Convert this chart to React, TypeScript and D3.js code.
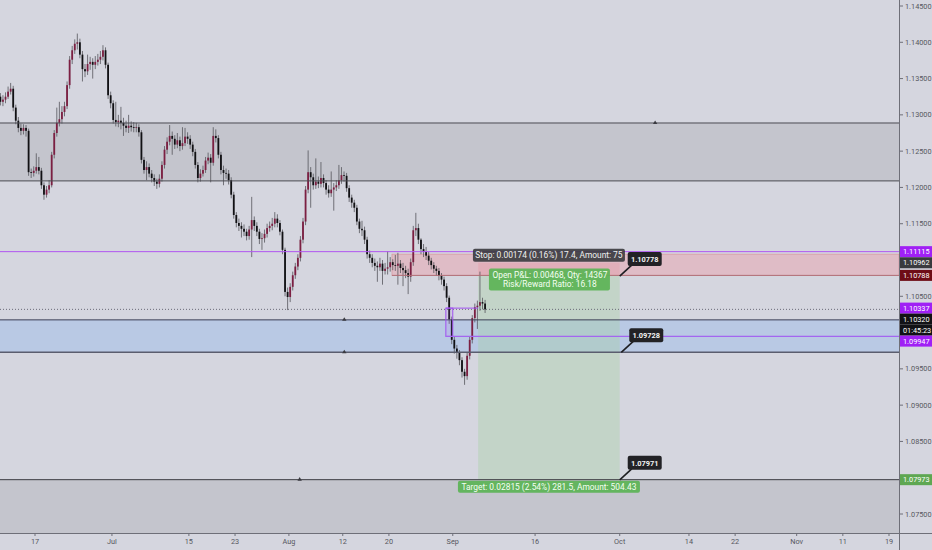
import * as d3 from 'd3';

// 8-hour candles, [open, high, low, close]
const candles: [number, number, number, number][] = [
  [1.1325,1.1330,1.1313,1.1318],[1.1318,1.1327,1.1312,1.1321],[1.1321,1.1331,1.1316,1.1325],[1.1325,1.1339,1.1322,1.1332],
  [1.1332,1.1344,1.1328,1.1336],[1.1336,1.1340,1.1305,1.1310],[1.1310,1.1314,1.1287,1.1292],[1.1292,1.1297,1.1276,1.1282],
  [1.1282,1.1288,1.1272,1.1278],[1.1278,1.1287,1.1273,1.1282],[1.1282,1.1286,1.1270,1.1278],[1.1278,1.1281,1.1216,1.1221],
  [1.1221,1.1226,1.1213,1.1220],[1.1220,1.1229,1.1215,1.1223],[1.1223,1.1247,1.1219,1.1228],[1.1228,1.1242,1.1218,1.1223],
  [1.1223,1.1227,1.1198,1.1203],[1.1203,1.1207,1.1183,1.1190],[1.1190,1.1202,1.1186,1.1197],[1.1197,1.1210,1.1192,1.1203],
  [1.1203,1.1249,1.1200,1.1245],[1.1245,1.1279,1.1240,1.1275],[1.1275,1.1310,1.1270,1.1289],[1.1289,1.1318,1.1284,1.1294],
  [1.1294,1.1312,1.1288,1.1304],[1.1304,1.1318,1.1298,1.1312],[1.1312,1.1346,1.1308,1.1341],[1.1341,1.1381,1.1336,1.1376],
  [1.1376,1.1395,1.1370,1.1389],[1.1389,1.1404,1.1384,1.1398],[1.1398,1.1412,1.1390,1.1400],[1.1400,1.1405,1.1378,1.1383],
  [1.1383,1.1388,1.1346,1.1363],[1.1363,1.1370,1.1352,1.1360],[1.1360,1.1383,1.1355,1.1370],[1.1370,1.1380,1.1362,1.1373],
  [1.1373,1.1378,1.1350,1.1369],[1.1369,1.1381,1.1363,1.1373],[1.1373,1.1384,1.1368,1.1376],[1.1376,1.1388,1.1370,1.1380],
  [1.1380,1.1396,1.1375,1.1389],[1.1389,1.1393,1.1364,1.1369],[1.1369,1.1372,1.1322,1.1327],[1.1327,1.1332,1.1309,1.1316],
  [1.1316,1.1320,1.1288,1.1293],[1.1293,1.1318,1.1284,1.1290],[1.1290,1.1300,1.1283,1.1292],[1.1292,1.1311,1.1280,1.1289],
  [1.1289,1.1296,1.1271,1.1285],[1.1285,1.1292,1.1276,1.1282],[1.1282,1.1300,1.1275,1.1285],[1.1285,1.1291,1.1277,1.1283],
  [1.1283,1.1290,1.1276,1.1282],[1.1282,1.1289,1.1276,1.1283],[1.1283,1.1287,1.1270,1.1276],[1.1276,1.1279,1.1233,1.1238],
  [1.1238,1.1242,1.1219,1.1224],[1.1224,1.1236,1.1210,1.1228],[1.1228,1.1233,1.1214,1.1219],[1.1219,1.1224,1.1207,1.1213],
  [1.1213,1.1218,1.1202,1.1208],[1.1208,1.1212,1.1198,1.1205],[1.1205,1.1218,1.1200,1.1212],[1.1212,1.1236,1.1208,1.1231],
  [1.1231,1.1257,1.1226,1.1252],[1.1252,1.1269,1.1246,1.1263],[1.1263,1.1286,1.1258,1.1271],[1.1271,1.1277,1.1245,1.1267],
  [1.1267,1.1272,1.1253,1.1259],[1.1259,1.1275,1.1254,1.1265],[1.1265,1.1270,1.1250,1.1257],[1.1257,1.1283,1.1252,1.1261],
  [1.1261,1.1282,1.1257,1.1270],[1.1270,1.1276,1.1260,1.1267],[1.1267,1.1272,1.1253,1.1259],[1.1259,1.1263,1.1243,1.1249],
  [1.1249,1.1253,1.1226,1.1231],[1.1231,1.1235,1.1207,1.1213],[1.1213,1.1225,1.1208,1.1219],[1.1219,1.1230,1.1215,1.1224],
  [1.1224,1.1242,1.1220,1.1237],[1.1237,1.1248,1.1232,1.1241],[1.1241,1.1246,1.1207,1.1234],[1.1234,1.1283,1.1230,1.1271],
  [1.1271,1.1280,1.1262,1.1268],[1.1268,1.1272,1.1240,1.1245],[1.1245,1.1249,1.1218,1.1224],[1.1224,1.1230,1.1203,1.1220],
  [1.1220,1.1226,1.1212,1.1219],[1.1219,1.1224,1.1204,1.1210],[1.1210,1.1214,1.1185,1.1190],[1.1190,1.1194,1.1157,1.1162],
  [1.1162,1.1166,1.1145,1.1151],[1.1151,1.1157,1.1140,1.1147],[1.1147,1.1152,1.1131,1.1143],[1.1143,1.1149,1.1133,1.1139],
  [1.1139,1.1143,1.1127,1.1133],[1.1133,1.1147,1.1128,1.1142],[1.1142,1.1187,1.1104,1.1155],[1.1155,1.1160,1.1140,1.1147],
  [1.1147,1.1152,1.1133,1.1139],[1.1139,1.1143,1.1122,1.1129],[1.1129,1.1137,1.1114,1.1130],[1.1130,1.1142,1.1124,1.1136],
  [1.1136,1.1150,1.1131,1.1144],[1.1144,1.1153,1.1139,1.1147],[1.1147,1.1158,1.1141,1.1150],[1.1150,1.1166,1.1145,1.1157],
  [1.1157,1.1163,1.1145,1.1151],[1.1151,1.1155,1.1134,1.1139],[1.1139,1.1142,1.1108,1.1114],[1.1114,1.1117,1.1050,1.1056],
  [1.1056,1.1062,1.1031,1.1049],[1.1049,1.1068,1.1042,1.1063],[1.1063,1.1084,1.1058,1.1079],[1.1079,1.1096,1.1074,1.1091],
  [1.1091,1.1108,1.1086,1.1103],[1.1103,1.1133,1.1098,1.1128],[1.1128,1.1158,1.1123,1.1153],[1.1153,1.1202,1.1148,1.1197],
  [1.1197,1.1251,1.1192,1.1221],[1.1221,1.1228,1.1172,1.1214],[1.1214,1.1219,1.1197,1.1203],[1.1203,1.1240,1.1198,1.1208],
  [1.1208,1.1215,1.1199,1.1205],[1.1205,1.1235,1.1200,1.1213],[1.1213,1.1218,1.1200,1.1206],[1.1206,1.1210,1.1190,1.1197],
  [1.1197,1.1203,1.1186,1.1192],[1.1192,1.1222,1.1187,1.1197],[1.1197,1.1206,1.1168,1.1200],[1.1200,1.1210,1.1195,1.1203],
  [1.1203,1.1231,1.1198,1.1210],[1.1210,1.1228,1.1205,1.1217],[1.1217,1.1222,1.1208,1.1216],[1.1216,1.1220,1.1194,1.1199],
  [1.1199,1.1203,1.1180,1.1186],[1.1186,1.1190,1.1172,1.1179],[1.1179,1.1183,1.1166,1.1172],[1.1172,1.1176,1.1148,1.1153],
  [1.1153,1.1157,1.1137,1.1143],[1.1143,1.1154,1.1133,1.1141],[1.1141,1.1146,1.1122,1.1128],[1.1128,1.1132,1.1102,1.1108],
  [1.1108,1.1113,1.1096,1.1103],[1.1103,1.1108,1.1090,1.1096],[1.1096,1.1102,1.1085,1.1092],[1.1092,1.1098,1.1070,1.1090],
  [1.1090,1.1103,1.1085,1.1095],[1.1095,1.1100,1.1066,1.1085],[1.1085,1.1096,1.1080,1.1088],[1.1088,1.1112,1.1080,1.1090],
  [1.1090,1.1104,1.1084,1.1097],[1.1097,1.1101,1.1086,1.1093],[1.1093,1.1107,1.1085,1.1092],[1.1092,1.1110,1.1066,1.1095],
  [1.1095,1.1100,1.1082,1.1089],[1.1089,1.1096,1.1064,1.1086],[1.1086,1.1092,1.1075,1.1082],[1.1082,1.1088,1.1053,1.1077],
  [1.1077,1.1102,1.1070,1.1097],[1.1097,1.1147,1.1092,1.1141],[1.1141,1.1165,1.1133,1.1144],[1.1144,1.1150,1.1122,1.1128],
  [1.1128,1.1130,1.1108,1.1115],[1.1115,1.1122,1.1104,1.1111],[1.1111,1.1118,1.1100,1.1106],[1.1106,1.1111,1.1093,1.1099],
  [1.1099,1.1103,1.1087,1.1093],[1.1093,1.1097,1.1082,1.1088],[1.1088,1.1092,1.1078,1.1085],[1.1085,1.1089,1.1072,1.1078],
  [1.1078,1.1082,1.1066,1.1073],[1.1073,1.1077,1.1058,1.1064],[1.1064,1.1068,1.1042,1.1048],[1.1048,1.1051,1.1012,1.1018],
  [1.1018,1.1022,1.0984,1.0990],[1.0990,1.0994,1.0971,1.0978],[1.0978,1.0983,1.0964,1.0973],[1.0973,1.0976,1.0955,1.0962],
  [1.0962,1.0966,1.0938,1.0946],[1.0946,1.0950,1.0928,1.0940],[1.0940,1.0972,1.0935,1.0968],[1.0968,1.0994,1.0963,1.0990],
  [1.0990,1.1024,1.0985,1.1020],[1.1020,1.1040,1.1014,1.1035],[1.1035,1.1044,1.1005,1.1037],[1.1037,1.1084,1.1030,1.1042],
  [1.1042,1.1048,1.1032,1.1040],[1.1040,1.1045,1.1027,1.1032],
];
const firstCandleDay = -4.5; // trading-day index of first candle (0 = Jun 17)
const candlesPerDay = 3;

const priceTicks = [1.145, 1.14, 1.135, 1.13, 1.125, 1.12, 1.115, 1.105, 1.095, 1.09, 1.085, 1.075];
const timeTickLabels = ['17', 'Jul', '15', '23', 'Aug', '12', '20', 'Sep', '16', 'Oct', '14', '22', 'Nov', '11', '19'];
const timeTickDays = [0, 10, 20, 26, 33, 40, 46, 54.3, 65, 76, 85, 91, 99, 105, 111];

// drawings (price / trading-day units)
const grayZones = [
  { top: 1.12888, bottom: 1.1209 },
  { top: 1.07973, bottom: 1.06 },
];
const blueZone = { top: 1.10175, bottom: 1.09728 };
const redZone = { top: 1.1108, bottom: 1.10788, fromDay: 46.4 };
const fullLines = [
  { price: 1.12888, color: '#4a4a52', width: 1 },
  { price: 1.1209, color: '#4a4a52', width: 1 },
  { price: 1.11115, color: '#b057f0', width: 1 },
  { price: 1.10175, color: '#3c3f55', width: 1 },
  { price: 1.09728, color: '#5a5d6e', width: 1.5 },
  { price: 1.07973, color: '#3a3a40', width: 1 },
];
const purpleBox = { fromDay: 53.4, toDay: 54.3, top: 1.10337, bottom: 1.09947 };
const lastPrice = 1.1032;
const position = { fromDay: 57.6, toDay: 76, entry: 1.10788, stop: 1.10962, target: 1.07973 };
const stopText = 'Stop: 0.00174 (0.16%) 17.4, Amount: 75';
const pnlText = ['Open P&L: 0.00468, Qty: 14367', 'Risk/Reward Ratio: 16.18'];
const targetText = 'Target: 0.02815 (2.54%) 281.5, Amount: 504.43';
const callouts = [
  { text: '1.10778', price: 1.10778, day: 76 },
  { text: '1.09728', price: 1.09728, day: 76.2 },
  { text: '1.07971', price: 1.07971, day: 76 },
];
const markers = [
  { day: 80.6, price: 1.12888 },
  { day: 40.2, price: 1.10175 },
  { day: 40.2, price: 1.09728 },
  { day: 34.4, price: 1.07973 },
];
const axisBadges = [
  { text: '1.11115', price: 1.11115, bg: '#a020f5' },
  { text: '1.10962', price: 1.10962, bg: '#3a3a3e' },
  { text: '1.10788', price: 1.10788, bg: '#6e0d16' },
  { text: '1.10337', price: 1.10337, bg: '#a020f5' },
  { text: '1.10320', price: 1.1032, bg: '#121216' },
  { text: '01:45:23', price: 1.1032, bg: '#121216' },
  { text: '1.09947', price: 1.09947, bg: '#a020f5' },
  { text: '1.07973', price: 1.07973, bg: '#5ea752' },
];

const W = 932;
const H = 550;
const plotR = 899;
const plotB = 533;
const font = 'Roboto, "Noto Sans", sans-serif';

export default function App() {
  const x = d3.scaleLinear().domain([-4.55, 112.3]).range([0, plotR]);
  const y = d3.scaleLinear().domain([1.075, 1.145]).range([514, 6]);

  // stack axis badges so they don't overlap
  const badgeH = 11;
  let prevBottom = -Infinity;
  const badges = axisBadges.map(b => {
    let cy = y(b.price);
    if (cy - badgeH / 2 < prevBottom) cy = prevBottom + badgeH / 2;
    prevBottom = cy + badgeH / 2;
    return { ...b, cy };
  });

  const px0 = x(position.fromDay);
  const px1 = x(position.toDay);
  const pcx = (px0 + px1) / 2;

  return (
    <svg width={W} height={H} style={{ position: 'fixed', left: 0, top: 0, fontFamily: font }}>
      <rect x={0} y={0} width={W} height={H} fill="#d5d6df" />
      <clipPath id="plot">
        <rect x={0} y={0} width={plotR} height={plotB} />
      </clipPath>
      <g clipPath="url(#plot)">
        {grayZones.map((z, i) => (
          <rect key={i} x={0} width={plotR} y={y(z.top)} height={y(z.bottom) - y(z.top)} fill="#c4c5cd" />
        ))}
        <rect x={0} width={plotR} y={y(blueZone.top)} height={y(blueZone.bottom) - y(blueZone.top)}
          fill="#9dbbea" fillOpacity={0.5} />
        <rect x={x(redZone.fromDay)} width={plotR - x(redZone.fromDay)} y={y(redZone.top)}
          height={y(redZone.bottom) - y(redZone.top)} fill="#ec9ea8" fillOpacity={0.45} stroke="#d89aa2" strokeWidth={0.8} />

        {/* position tool areas */}
        <rect x={px0} width={px1 - px0} y={y(position.stop)} height={y(position.entry) - y(position.stop)}
          fill="#e88f9a" fillOpacity={0.3} />
        <rect x={px0} width={px1 - px0} y={y(position.entry)} height={y(position.target) - y(position.entry)}
          fill="#a3d1a0" fillOpacity={0.36} />

        {/* candles */}
        {candles.map(([o, h, l, c], i) => {
          const cx = x(firstCandleDay + i / candlesPerDay);
          const up = c >= o;
          const top = y(Math.max(o, c));
          const bh = Math.max(0.8, Math.abs(y(o) - y(c)));
          return (
            <g key={i}>
              <line x1={cx} x2={cx} y1={y(h)} y2={y(l)} stroke="#55555c" strokeWidth={0.8} />
              <rect x={cx - 0.9} width={1.8} y={top} height={bh} fill={up ? '#7c1f42' : '#111114'} />
            </g>
          );
        })}

        {fullLines.map((l, i) => (
          <line key={i} x1={0} x2={plotR} y1={y(l.price)} y2={y(l.price)} stroke={l.color} strokeWidth={l.width} />
        ))}
        <line x1={x(redZone.fromDay)} x2={plotR} y1={y(redZone.bottom)} y2={y(redZone.bottom)} stroke="#b07078" strokeWidth={1} />
        <line x1={0} x2={plotR} y1={y(lastPrice)} y2={y(lastPrice)} stroke="#6a6a78" strokeWidth={1} strokeDasharray="1,2" />

        {/* purple drawing */}
        <rect x={x(purpleBox.fromDay)} width={x(purpleBox.toDay) - x(purpleBox.fromDay)} y={y(purpleBox.top)}
          height={y(purpleBox.bottom) - y(purpleBox.top)} fill="#b070f0" fillOpacity={0.15} stroke="#a050f0" strokeWidth={1} />
        <line x1={x(purpleBox.fromDay)} x2={px0} y1={y(purpleBox.top)} y2={y(purpleBox.top)} stroke="#a050f0" />
        <line x1={x(purpleBox.fromDay)} x2={plotR} y1={y(purpleBox.bottom)} y2={y(purpleBox.bottom)} stroke="#a466f0" strokeWidth={1.2} />

        {markers.map((m, i) => {
          const mx = x(m.day);
          const my = y(m.price);
          return <path key={i} d={`M${mx - 2.2},${my + 1} L${mx + 2.2},${my + 1} L${mx},${my - 2.6} Z`} fill="#3a3a40" />;
        })}

        {/* position labels */}
        <rect x={pcx - 76} y={y(position.stop) - 14} width={152} height={13} rx={2} fill="#3a3a3e" fillOpacity={0.9} />
        <text x={pcx} y={y(position.stop) - 4.3} textAnchor="middle" fontSize={8.4} fill="#f0f0f0">{stopText}</text>
        <rect x={pcx - 60} y={y(position.entry) - 7} width={121} height={22} rx={2} fill="#5fb458" fillOpacity={0.95} />
        {pnlText.map((t, i) => (
          <text key={i} x={pcx + 1} y={y(position.entry) + 2.2 + i * 9.2} textAnchor="middle" fontSize={8.4} fill="#f4fff2">{t}</text>
        ))}
        <rect x={pcx - 91} y={y(position.target) + 1} width={182} height={12} rx={2} fill="#5fb458" fillOpacity={0.95} />
        <text x={pcx} y={y(position.target) + 10} textAnchor="middle" fontSize={8.4} fill="#f4fff2">{targetText}</text>

        {callouts.map((c, i) => {
          const tx = x(c.day);
          const ty = y(c.price);
          return (
            <g key={i}>
              <line x1={tx} y1={ty} x2={tx + 12} y2={ty - 11} stroke="#1e1e22" strokeWidth={1.6} />
              <rect x={tx + 8} y={ty - 24} width={34} height={14} rx={2} fill="#222226" />
              <text x={tx + 25} y={ty - 14.2} textAnchor="middle" fontSize={7.4} fontWeight="bold" fill="#f2f2f2">{c.text}</text>
            </g>
          );
        })}
      </g>

      {/* axes */}
      <line x1={plotR + 0.5} x2={plotR + 0.5} y1={0} y2={H} stroke="#6e6f78" />
      <line x1={0} x2={W} y1={plotB + 0.5} y2={plotB + 0.5} stroke="#6e6f78" />
      {priceTicks.map(p => (
        <g key={p}>
          <line x1={plotR} x2={plotR + 4} y1={y(p)} y2={y(p)} stroke="#6e6f78" />
          <text x={plotR + 6} y={y(p) + 2.6} fontSize={7.3} fill="#55565e">{d3.format('.5f')(p)}</text>
        </g>
      ))}
      {badges.map((b, i) => (
        <g key={i}>
          <rect x={plotR + 1} y={b.cy - badgeH / 2} width={W - plotR - 1} height={badgeH} fill={b.bg} />
          <text x={plotR + 4} y={b.cy + 2.6} fontSize={7.3} fill="#ffffff">{b.text}</text>
        </g>
      ))}
      {timeTickLabels.map((t, i) => (
        <g key={t + i}>
          <line x1={x(timeTickDays[i])} x2={x(timeTickDays[i])} y1={plotB} y2={plotB + 3} stroke="#6e6f78" />
          <text x={x(timeTickDays[i])} y={plotB + 11} textAnchor="middle" fontSize={7.3} fill="#55565e">{t}</text>
        </g>
      ))}
    </svg>
  );
}
